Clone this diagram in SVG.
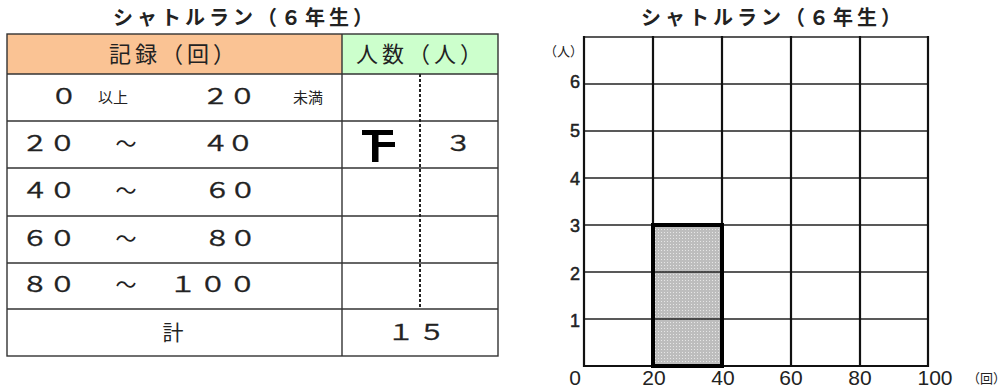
<svg xmlns="http://www.w3.org/2000/svg" width="1007" height="392" viewBox="0 0 1007 392">
<style>
.jp{font-family:"Noto Sans CJK JP","Noto Sans CJK SC",sans-serif;fill:#222}
.title{font-size:20px;font-weight:bold;letter-spacing:4px}
.hd{font-size:22px;letter-spacing:4px}
.cell{font-size:21px}
.dg{stroke:#222;stroke-width:0.3}
.num{text-anchor:middle}
.sm{font-size:15px}
.tl{stroke:#333;stroke-width:1.4;fill:none}
.ax{font-family:"Liberation Sans",Arial,sans-serif;fill:#222}
.xl{font-size:21px;text-anchor:middle}
.yl{font-size:18px;text-anchor:middle;stroke:#222;stroke-width:0.5}
.gv{stroke:#111;stroke-width:2.2}
.gh{stroke:#222;stroke-width:1.4}
</style>
<defs>
<pattern id="dots" width="3" height="3" patternUnits="userSpaceOnUse">
<rect width="3" height="3" fill="#bdbdbd"/>
<rect x="1" y="1" width="1" height="1" fill="#e6e6e6"/>
</pattern>
</defs>
<rect width="1007" height="392" fill="#fff"/>
<g id="table">
<text class="jp title" x="113" y="25">シャトルラン（６年生）</text>
<rect x="7" y="34" width="335" height="40" fill="#FAC394"/>
<rect x="342" y="34" width="156" height="40" fill="#CCFFCC"/>
<rect class="tl" x="7" y="34" width="491" height="322"/>
<line class="tl" x1="342" y1="34" x2="342" y2="356"/>
<line class="tl" x1="7" y1="74" x2="498" y2="74"/>
<line class="tl" x1="7" y1="121" x2="498" y2="121"/>
<line class="tl" x1="7" y1="168" x2="498" y2="168"/>
<line class="tl" x1="7" y1="216" x2="498" y2="216"/>
<line class="tl" x1="7" y1="263" x2="498" y2="263"/>
<line class="tl" x1="7" y1="309" x2="498" y2="309"/>
<line x1="420" y1="74" x2="420" y2="309" stroke="#222" stroke-width="2" stroke-dasharray="3 2"/>
<text class="jp hd" x="109" y="62">記録（回）</text>
<text class="jp hd" x="356" y="62">人数（人）</text>
<text class="jp sm" x="98" y="103">以上</text>
<text class="jp sm" x="293" y="103">未満</text>
<text class="jp cell num" x="126" y="151">～</text>
<text class="jp cell num" x="126" y="198">～</text>
<text class="jp cell num" x="126" y="246">～</text>
<text class="jp cell num" x="126" y="292">～</text>
<text class="jp cell num" x="173" y="340">計</text>
<g transform="scale(1.3 1)">
<text class="jp cell dg num" x="49.23" y="104">０</text>
<text class="jp cell dg num" x="165.77 186.54" y="104">２０</text>
<text class="jp cell dg num" x="26.92 48.08" y="151">２０</text>
<text class="jp cell dg num" x="165.77 185" y="151">４０</text>
<text class="jp cell dg num" x="352.69" y="151">３</text>
<text class="jp cell dg num" x="26.92 48.08" y="198">４０</text>
<text class="jp cell dg num" x="167.31 186.92" y="198">６０</text>
<text class="jp cell dg num" x="26.92 48.08" y="246">６０</text>
<text class="jp cell dg num" x="167.31 186.92" y="246">８０</text>
<text class="jp cell dg num" x="26.92 48.08" y="292">８０</text>
<text class="jp cell dg num" x="140.77 163.85 186.54" y="292">１００</text>
<text class="jp cell dg num" x="308.46 332.31" y="340">１５</text>
</g>
<g id="tally" fill="#000">
<rect x="362" y="130" width="31" height="5"/>
<rect x="372" y="130" width="6.5" height="32"/>
<rect x="378" y="142" width="17" height="5"/>
</g>
</g>
<g id="chart">
<text class="jp title" x="641" y="25">シャトルラン（６年生）</text>
<rect x="653" y="225" width="69" height="141" fill="url(#dots)"/>
<g id="grid">
<line class="gh" x1="584" y1="37" x2="928" y2="37"/>
<line class="gh" x1="584" y1="84" x2="928" y2="84"/>
<line class="gh" x1="584" y1="131" x2="928" y2="131"/>
<line class="gh" x1="584" y1="178" x2="928" y2="178"/>
<line class="gh" x1="584" y1="225" x2="928" y2="225"/>
<line class="gh" x1="584" y1="272" x2="928" y2="272"/>
<line class="gh" x1="584" y1="319" x2="928" y2="319"/>
<line class="gv" x1="583" y1="366" x2="929" y2="366"/>
<line class="gv" x1="584" y1="36" x2="584" y2="367"/>
<line class="gv" x1="653" y1="36" x2="653" y2="367"/>
<line class="gv" x1="722" y1="36" x2="722" y2="367"/>
<line class="gv" x1="791" y1="36" x2="791" y2="367"/>
<line class="gv" x1="860" y1="36" x2="860" y2="367"/>
<line class="gv" x1="928" y1="36" x2="928" y2="367"/>
</g>
<rect id="bar" x="653" y="225" width="69" height="141" fill="none" stroke="#000" stroke-width="4"/>
<text class="jp" x="544" y="56" font-size="13">（人）</text>
<text class="ax yl" x="575" y="88">6</text>
<text class="ax yl" x="575" y="137">5</text>
<text class="ax yl" x="575" y="185">4</text>
<text class="ax yl" x="575" y="232">3</text>
<text class="ax yl" x="575" y="280">2</text>
<text class="ax yl" x="575" y="327">1</text>
<text class="ax xl" x="575" y="385">0</text>
<text class="ax xl" x="654" y="385">20</text>
<text class="ax xl" x="723" y="385">40</text>
<text class="ax xl" x="791" y="385">60</text>
<text class="ax xl" x="860" y="385">80</text>
<text class="ax xl" x="935" y="385">100</text>
<text class="jp" x="967" y="383" font-size="13">（回）</text>
</g>
</svg>
